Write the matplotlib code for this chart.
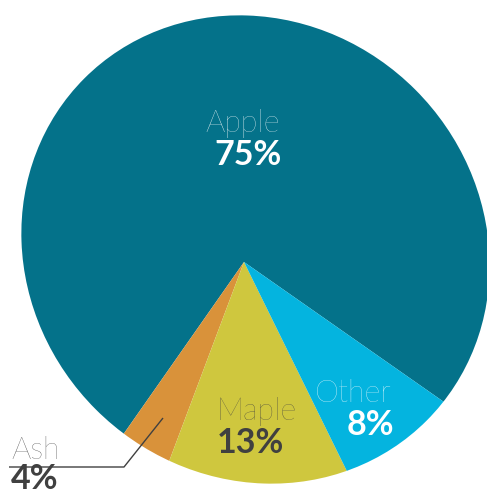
import matplotlib.pyplot as plt
from matplotlib.patches import Ellipse, Wedge

# datos del grafico
labels = ["Apple", "Ash", "Maple", "Other"]
values = [75, 4, 13, 8]
colors = ["#04728A", "#D9923A", "#CFC73E", "#04B4DF"]

W, H = 487, 496
fig = plt.figure(figsize=(W / 100, H / 100), dpi=100)
ax = fig.add_axes([0, 0, 1, 1])
ax.set_xlim(0, W)
ax.set_ylim(0, H)
ax.axis("off")

# forma exterior (ligeramente eliptica, como en la imagen)
outline = Ellipse((255.5, H - 249.5), 484, 452, angle=-45,
                  facecolor="none", edgecolor="none")
ax.add_patch(outline)

# porciones desde el vertice, recortadas por el contorno
center = (244, H - 262)
start = 325
total = float(sum(values))
for v, c in zip(values, colors):
    end = start + 360 * v / total
    w = Wedge(center, 400, start, end, facecolor=c, linewidth=0)
    ax.add_patch(w)
    w.set_clip_path(outline.get_path(), outline.get_transform())
    start = end

font = "Lato"
dark = "#404040"

def label(x, y, name, pct, color, ha="center", dx=0, gap=33):
    ax.text(x, H - y, name, ha=ha, va="baseline", fontsize=22,
            fontweight="light", family=font, color=color)
    ax.text(x + dx, H - y - gap, pct, ha=ha, va="baseline", fontsize=24.5,
            fontweight="bold", family=font, color=color)

label(242.5, 132, labels[0], "%d%%" % values[0], "white", dx=5)
label(257, 420, labels[2], "%d%%" % values[2], dark, dx=-7)
label(353, 402, labels[3], "%d%%" % values[3], "white", dx=17)
label(11, 459, labels[1], "%d%%" % values[1], dark, ha="left", gap=30)

# linea guia para Ash
ax.plot([163, 124, 9], [H - 418, H - 467, H - 467], color=dark, lw=1,
        solid_capstyle="butt")

fig.savefig("out.png", dpi=100)
